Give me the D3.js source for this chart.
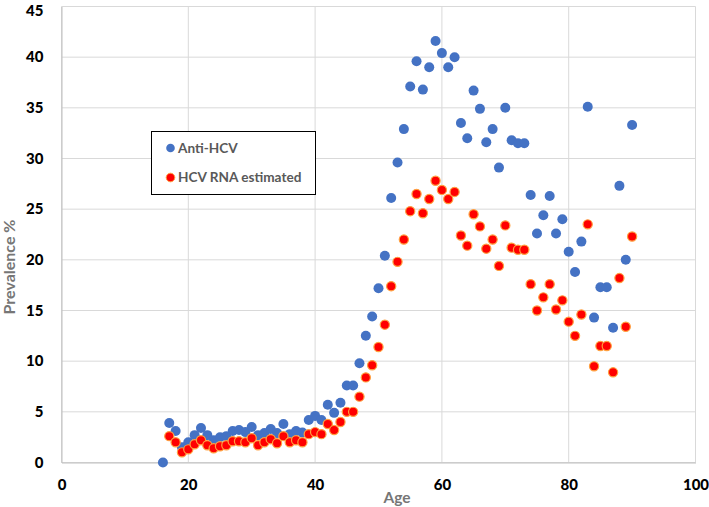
<!DOCTYPE html>
<html>
<head>
<meta charset="utf-8">
<script src="https://cdn.jsdelivr.net/npm/d3@7"></script>
<style>
  html, body { margin: 0; padding: 0; background: #fff; }
  svg { display: block; }
</style>
</head>
<body>
<svg id="chart" width="709" height="507"></svg>
<script>
const ages = d3.range(16, 91);
const antiHCV = [0, 3.9, 3.1, 1.5, 2.0, 2.7, 3.4, 2.7, 2.2, 2.5, 2.6, 3.1, 3.2, 3.0, 3.5, 2.7, 2.9, 3.3, 2.9, 3.8,
  2.8, 3.1, 2.95, 4.2, 4.6, 4.2, 5.7, 4.9, 5.9, 7.6, 7.6, 9.8, 12.5, 14.4, 17.2, 20.4, 26.1, 29.6, 32.9, 37.1,
  39.6, 36.8, 39.0, 41.6, 40.4, 39.0, 40.0, 33.5, 32.0, 36.7, 34.9, 31.6, 32.9, 29.1, 35.0, 31.8, 31.5, 31.5, 26.4, 22.6,
  24.4, 26.3, 22.6, 24.0, 20.8, 18.8, 21.8, 35.1, 14.3, 17.3, 17.3, 13.3, 27.3, 20.0, 33.3];
const hcvRNA = [null, 2.6, 2.0, 1.0, 1.3, 1.8, 2.2, 1.7, 1.4, 1.6, 1.7, 2.1, 2.1, 2.0, 2.4, 1.7, 2.0, 2.3, 1.9, 2.6,
  2.0, 2.2, 2.0, 2.8, 3.0, 2.8, 3.8, 3.2, 4.0, 5.0, 5.0, 6.5, 8.4, 9.6, 11.4, 13.6, 17.4, 19.8, 22.0, 24.8,
  26.5, 24.6, 26.0, 27.8, 26.9, 26.0, 26.7, 22.4, 21.4, 24.5, 23.3, 21.1, 22.0, 19.4, 23.4, 21.2, 21.0, 21.0, 17.6, 15.0,
  16.3, 17.6, 15.1, 16.0, 13.9, 12.5, 14.6, 23.5, 9.5, 11.5, 11.5, 8.9, 18.2, 13.4, 22.3];
const xTicks = [0, 20, 40, 60, 80, 100];
const yTicks = [0, 5, 10, 15, 20, 25, 30, 35, 40, 45];
const seriesNames = ["Anti-HCV", "HCV RNA estimated"];

const svg = d3.select("#chart");
const x = d3.scaleLinear().domain([0, 100]).range([61.5, 695.5]);
const y = d3.scaleLinear().domain([0, 45]).range([462.5, 6.5]);
const fontFam = "Lato, 'Open Sans', 'Liberation Sans', sans-serif";

// gridlines
svg.append("g").selectAll("line.h").data(yTicks).join("line")
  .attr("x1", x(0)).attr("x2", x(100))
  .attr("y1", d => y(d)).attr("y2", d => y(d))
  .attr("stroke", "#d9d9d9").attr("stroke-width", 1);
svg.append("g").selectAll("line.v").data(xTicks).join("line")
  .attr("y1", y(0)).attr("y2", y(45))
  .attr("x1", d => x(d)).attr("x2", d => x(d))
  .attr("stroke", "#d9d9d9").attr("stroke-width", 1);

// axes
const xAxis = d3.axisBottom(x).tickValues(xTicks).tickSize(0).tickPadding(17);
const yAxis = d3.axisLeft(y).tickValues(yTicks).tickSize(0).tickPadding(18);
const gx = svg.append("g").attr("transform", `translate(0,${y(0)})`).call(xAxis);
const gy = svg.append("g").attr("transform", `translate(${x(0)},0)`).call(yAxis);
[gx, gy].forEach(g => {
  g.select(".domain").attr("stroke", "#bfbfbf");
  g.selectAll("text").attr("font-family", fontFam).attr("font-weight", "900")
    .attr("font-size", 15).attr("fill", "#000");
});
gy.selectAll(".tick").filter(d => d === 45).select("text").attr("dy", "0.62em");

// axis titles
svg.append("text").attr("x", 397).attr("y", 503).attr("text-anchor", "middle")
  .attr("font-family", fontFam).attr("font-weight", "bold").attr("font-size", 15.5)
  .attr("fill", "#767676").text("Age");
svg.append("text").attr("transform", "translate(15,267) rotate(-90)").attr("text-anchor", "middle")
  .attr("font-family", fontFam).attr("font-weight", "bold").attr("font-size", 16)
  .attr("fill", "#767676").text("Prevalence %");

// points
const blue = ages.map((a, i) => ({a, v: antiHCV[i]})).filter(d => d.v != null);
const red = ages.map((a, i) => ({a, v: hcvRNA[i]})).filter(d => d.v != null);
svg.append("g").selectAll("circle").data(blue).join("circle")
  .attr("cx", d => x(d.a)).attr("cy", d => y(d.v)).attr("r", 5)
  .attr("fill", "#4472C4");
svg.append("g").selectAll("circle").data(red).join("circle")
  .attr("cx", d => x(d.a)).attr("cy", d => y(d.v)).attr("r", 4.6)
  .attr("fill", "#FF0000").attr("stroke", "#FFA040").attr("stroke-width", 1.2);

// legend
const lg = svg.append("g");
lg.append("rect").attr("x", 151.5).attr("y", 131.5).attr("width", 164).attr("height", 63)
  .attr("fill", "#fff").attr("stroke", "#000").attr("stroke-width", 1);
const legendColors = [["#4472C4", null], ["#FF0000", "#FFA040"]];
seriesNames.forEach((n, i) => {
  const cy = 148 + i * 29.5;
  lg.append("circle").attr("cx", 170.5).attr("cy", cy).attr("r", 4.3)
    .attr("fill", legendColors[i][0])
    .attr("stroke", legendColors[i][1] || "none").attr("stroke-width", 1);
  lg.append("text").attr("x", 178).attr("y", cy).attr("dy", "0.35em")
    .attr("font-family", fontFam).attr("font-weight", "bold").attr("font-size", 13.6)
    .attr("fill", "#595959").text(n);
});
</script>
</body>
</html>
